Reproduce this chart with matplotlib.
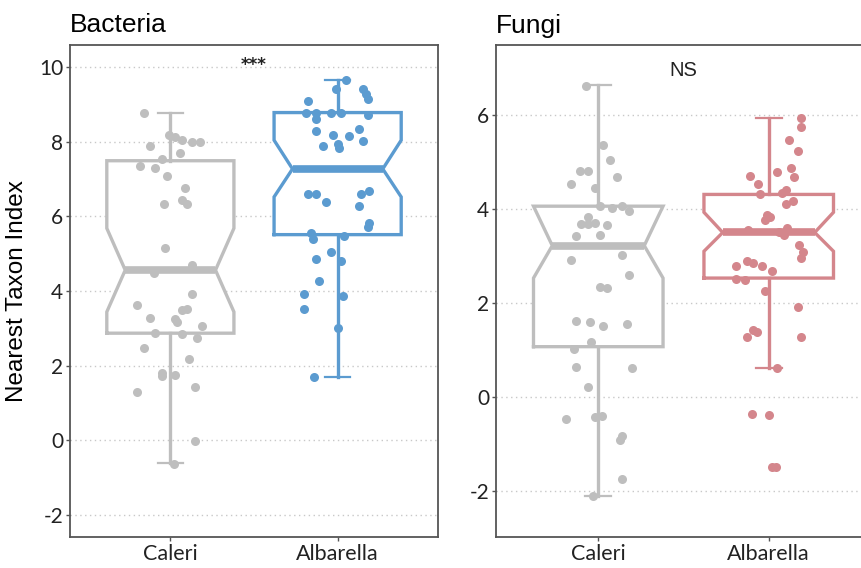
import matplotlib
matplotlib.use("Agg")
import matplotlib.pyplot as plt

# categories
groups = ["Caleri", "Albarella"]

# box statistics: q1, median, q3, notch low, notch high, whisker low, whisker high
bac_stats = {
    "Caleri":    dict(q1=2.87, med=4.56, q3=7.49, cilo=3.44, cihi=5.68, wlo=-0.62, whi=8.76),
    "Albarella": dict(q1=5.51, med=7.27, q3=8.78, cilo=6.52, cihi=8.04, wlo=1.70, whi=9.65),
}
fun_stats = {
    "Caleri":    dict(q1=1.07, med=3.22, q3=4.06, cilo=2.53, cihi=4.06, wlo=-2.10, whi=6.63),
    "Albarella": dict(q1=2.53, med=3.50, q3=4.31, cilo=3.10, cihi=3.93, wlo=0.62, whi=5.94),
}

# jittered points (value, horizontal jitter in category units)
bac_caleri_y = [8.76, 8.19, 8.13, 8.04, 8.00, 7.98, 7.88, 7.69, 7.53, 7.35, 7.30, 7.08, 6.76,
                6.45, 6.32, 6.33, 5.15, 4.69, 4.47, 3.91, 3.62, 3.53, 3.50, 3.29, 3.24, 3.16,
                3.06, 2.88, 2.84, 2.73, 2.47, 2.19, 1.80, 1.72, 1.76, 1.43, 1.29, -0.02, -0.63]
bac_caleri_j = [-0.16, -0.01, 0.03, 0.07, 0.13, 0.18, -0.12, 0.06, -0.05, -0.18, -0.09, -0.02, 0.09,
                0.07, 0.10, -0.04, -0.03, 0.13, -0.10, 0.13, -0.20, 0.10, 0.07, -0.12, 0.03, 0.04,
                0.19, -0.09, 0.07, 0.16, -0.16, 0.11, -0.05, -0.05, 0.03, 0.15, -0.20, 0.15, 0.02]
bac_alb_y = [9.65, 9.40, 9.40, 9.29, 9.14, 9.09, 8.76, 8.76, 8.78, 8.78, 8.71, 8.62, 8.29, 8.19,
             8.35, 8.16, 8.02, 7.88, 7.94, 7.84, 6.59, 6.59, 6.39, 6.59, 6.68, 6.27, 5.81, 5.72,
             5.56, 5.38, 5.47, 5.05, 4.87, 4.81, 4.26, 3.91, 3.87, 3.53, 3.01, 1.70]
bac_alb_j = [0.05, -0.01, 0.15, 0.17, 0.18, -0.18, -0.19, -0.13, -0.04, 0.02, 0.18, -0.13, -0.13, -0.03,
             0.13, 0.07, 0.15, -0.09, 0.00, 0.01, -0.18, -0.13, -0.07, 0.14, 0.19, 0.13, 0.19, 0.18,
             -0.16, -0.15, 0.04, -0.04, -0.13, 0.02, -0.11, -0.20, 0.03, -0.20, 0.00, -0.14]

fun_caleri_y = [6.62, 5.37, 5.05, 4.80, 4.80, 4.68, 4.54, 4.45, 4.06, 4.03, 4.07, 3.95, 3.82, 3.68,
                3.68, 3.71, 3.67, 3.43, 3.45, 2.91, 3.03, 2.60, 2.35, 2.32, 1.62, 1.60, 1.52, 1.55,
                1.16, 1.02, 0.64, 0.62, 0.22, -0.47, -0.43, -0.41, -0.84, -0.92, -1.74, -2.10]
fun_caleri_j = [-0.07, 0.03, 0.07, -0.11, -0.06, 0.11, -0.16, -0.02, 0.01, 0.08, 0.14, 0.18, -0.06, -0.10,
                -0.06, -0.02, 0.05, -0.13, 0.01, -0.16, 0.14, 0.18, 0.01, 0.05, -0.13, -0.05, 0.03, 0.17,
                -0.04, -0.14, -0.13, 0.20, -0.06, -0.19, -0.02, 0.02, 0.14, 0.13, 0.14, -0.03]
fun_alb_y = [5.94, 5.74, 5.47, 5.23, 4.87, 4.78, 4.69, 4.71, 4.54, 4.41, 4.33, 4.32, 4.18, 4.11,
             3.88, 3.84, 3.77, 3.56, 3.60, 3.52, 3.45, 3.23, 3.09, 2.96, 2.78, 2.89, 2.86, 2.79,
             2.67, 2.50, 2.48, 2.25, 1.91, 1.28, 1.43, 1.38, 1.28, 0.62, -0.36, -0.38, -1.48, -1.48]
fun_alb_j = [0.19, 0.19, 0.12, 0.17, 0.13, 0.05, 0.15, -0.11, -0.06, 0.10, 0.08, -0.05, 0.14, 0.10,
             -0.01, 0.01, -0.02, -0.12, 0.11, 0.06, 0.09, 0.18, 0.20, 0.19, -0.19, -0.13, -0.09, -0.04,
             0.02, -0.19, -0.14, -0.02, 0.17, -0.13, -0.09, -0.07, 0.19, 0.05, -0.10, 0.00, 0.02, 0.04]

grey = "#BEBEBE"
blue = "#5B9BD0"
pink = "#D4868C"
frame = "#555555"
tick_font = "Lato"
text_font = "Liberation Sans"


def notched_box(ax, pos, s, color, w=0.76, notch=0.71, cap=0.15):
    x0, x1 = pos - w / 2, pos + w / 2
    n0, n1 = pos - w * notch / 2, pos + w * notch / 2
    xs = [x0, x0, n0, x0, x0, x1, x1, n1, x1, x1, x0]
    ys = [s["q1"], s["cilo"], s["med"], s["cihi"], s["q3"], s["q3"],
          s["cihi"], s["med"], s["cilo"], s["q1"], s["q1"]]
    ax.fill(xs, ys, color="white", zorder=2)
    ax.plot(xs, ys, color=color, lw=2.4, zorder=3, solid_joinstyle="miter")
    ax.plot([n0, n1], [s["med"], s["med"]], color=color, lw=5.5, zorder=3, solid_capstyle="butt")
    ax.plot([pos, pos], [s["q3"], s["whi"]], color=color, lw=2.4, zorder=2.5)
    ax.plot([pos, pos], [s["q1"], s["wlo"]], color=color, lw=2.4, zorder=2.5)
    ax.plot([pos - cap / 2, pos + cap / 2], [s["whi"], s["whi"]], color=color, lw=1.6, zorder=2.5)
    ax.plot([pos - cap / 2, pos + cap / 2], [s["wlo"], s["wlo"]], color=color, lw=1.6, zorder=2.5)


def style(ax, ylim, yticks):
    ax.set_xlim(0.4, 2.6)
    ax.set_ylim(*ylim)
    ax.set_yticks(yticks)
    ax.set_xticks([1, 2])
    ax.set_xticklabels(groups, fontfamily=tick_font, fontsize=15.5, color="#222222")
    ax.set_yticklabels([str(t) for t in yticks], fontfamily=tick_font, fontsize=15, color="#222222")
    ax.tick_params(axis="both", length=3, width=1, color=frame, pad=2)
    ax.grid(axis="y", linestyle=(0, (1, 2.5)), color="#C8C8C8", lw=1, zorder=0)
    ax.set_axisbelow(True)
    for sp in ax.spines.values():
        sp.set_color(frame)
        sp.set_linewidth(1.3)


fig = plt.figure(figsize=(8.61, 5.68), dpi=100)

# Bacteria
ax1 = fig.add_axes([70 / 861, 31 / 568, 368 / 861, 492 / 568])
notched_box(ax1, 1, bac_stats["Caleri"], grey)
notched_box(ax1, 2, bac_stats["Albarella"], blue)
ax1.plot([1 + j for j in bac_caleri_j], bac_caleri_y, "o", color=grey, ms=6.5, mec="none", zorder=4)
ax1.plot([2 + j for j in bac_alb_j], bac_alb_y, "o", color=blue, ms=6.5, mec="none", zorder=4)
style(ax1, (-2.59, 10.59), [-2, 0, 2, 4, 6, 8, 10])
ax1.set_title("Bacteria", loc="left", fontfamily=text_font, fontsize=19, pad=9)
ax1.set_ylabel("Nearest Taxon Index", fontfamily=text_font, fontsize=17.5, labelpad=8)
ax1.text(1.5, 10.05, "***", ha="center", va="center", fontsize=12, fontweight="bold", color="#222222")

# Fungi
ax2 = fig.add_axes([496 / 861, 31 / 568, 375 / 861, 492 / 568])
notched_box(ax2, 1, fun_stats["Caleri"], grey)
notched_box(ax2, 2, fun_stats["Albarella"], pink)
ax2.plot([1 + j for j in fun_caleri_j], fun_caleri_y, "o", color=grey, ms=6.5, mec="none", zorder=4)
ax2.plot([2 + j for j in fun_alb_j], fun_alb_y, "o", color=pink, ms=6.5, mec="none", zorder=4)
style(ax2, (-2.98, 7.49), [-2, 0, 2, 4, 6])
ax2.set_title("Fungi", loc="left", fontfamily=text_font, fontsize=19, pad=9)
ax2.text(1.5, 6.95, "NS", ha="center", va="center", fontfamily=text_font, fontsize=14.5, color="#222222")

fig.savefig("out.png", dpi=100)
